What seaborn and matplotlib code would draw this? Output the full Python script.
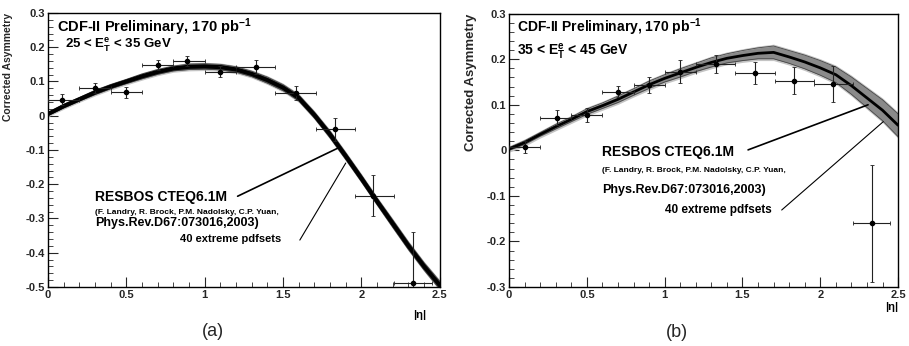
import numpy as np
import pandas as pd
import matplotlib
matplotlib.use("Agg")
import matplotlib.pyplot as plt
from matplotlib.ticker import MultipleLocator, FuncFormatter
import seaborn as sns

sns.set_style("ticks")
plt.rcParams['font.family'] = ['Liberation Sans', 'DejaVu Sans']
plt.rcParams['mathtext.fontset'] = 'custom'
plt.rcParams['mathtext.rm'] = 'Liberation Sans'
plt.rcParams['mathtext.bf'] = 'Liberation Sans:bold'
plt.rcParams['mathtext.it'] = 'Liberation Sans:italic'

# measured points (bin edges in |eta|)
bin_lo = [0.0, 0.2, 0.4, 0.6, 0.8, 1.0, 1.2, 1.45, 1.71, 1.96, 2.21]
bin_hi = [0.2, 0.4, 0.6, 0.8, 1.0, 1.2, 1.45, 1.71, 1.96, 2.21, 2.45]

eta_a = [0.09, 0.30, 0.50, 0.70, 0.89, 1.10, 1.33, 1.58, 1.83, 2.075, 2.33]
asym_a = [0.047, 0.081, 0.069, 0.148, 0.160, 0.129, 0.143, 0.066, -0.040, -0.234, -0.488]
yerr_a = [0.017, 0.016, 0.016, 0.015, 0.015, 0.017, 0.020, 0.021, 0.034, 0.060, 0.148]

eta_b = [0.10, 0.31, 0.50, 0.70, 0.90, 1.10, 1.33, 1.58, 1.83, 2.08, 2.33]
asym_b = [0.007, 0.072, 0.078, 0.129, 0.144, 0.173, 0.190, 0.170, 0.153, 0.146, -0.160]
yerr_b = [0.013, 0.017, 0.015, 0.012, 0.018, 0.025, 0.020, 0.024, 0.030, 0.040, 0.128]

# RESBOS CTEQ6.1M prediction, central value and pdf band half-width
eta_curve = [0.0, 0.1, 0.2, 0.3, 0.4, 0.5, 0.6, 0.7, 0.8, 0.9, 1.0, 1.1, 1.2,
             1.3, 1.4, 1.5, 1.6, 1.7, 1.8, 1.9, 2.0, 2.1, 2.2, 2.3, 2.4, 2.5]
curve_a = [0.005, 0.028, 0.048, 0.068, 0.085, 0.100, 0.115, 0.128, 0.138, 0.143,
           0.144, 0.142, 0.135, 0.122, 0.104, 0.082, 0.052, 0.002, -0.055, -0.118,
           -0.183, -0.250, -0.315, -0.380, -0.440, -0.495]
band_a = [0.004, 0.005, 0.005, 0.006, 0.006, 0.006, 0.007, 0.007, 0.007, 0.008,
          0.008, 0.008, 0.008, 0.008, 0.009, 0.009, 0.009, 0.009, 0.010, 0.010,
          0.010, 0.010, 0.011, 0.011, 0.011, 0.012]
curve_b = [0.003, 0.017, 0.035, 0.052, 0.068, 0.085, 0.098, 0.112, 0.128, 0.144,
           0.158, 0.170, 0.182, 0.193, 0.202, 0.208, 0.213, 0.215, 0.205, 0.194,
           0.181, 0.166, 0.142, 0.115, 0.088, 0.055]
band_b = [0.003, 0.004, 0.004, 0.005, 0.005, 0.006, 0.006, 0.007, 0.007, 0.008,
          0.008, 0.009, 0.009, 0.010, 0.010, 0.011, 0.012, 0.014, 0.014, 0.015,
          0.016, 0.017, 0.019, 0.021, 0.023, 0.025]

fmt = FuncFormatter(lambda v, p: '%g' % (round(v, 2) + 0.0))
bold = dict(fontweight='bold', color='black')


def draw_panel(ax, eta, asym, yerr, curve, band, ylim, lw_curve, band_col):
    df = pd.DataFrame({'eta': eta_curve, 'asym': curve})
    lo = np.array(curve) - np.array(band)
    hi = np.array(curve) + np.array(band)
    ax.fill_between(eta_curve, lo - 0.004, hi + 0.004, color='#c4c4c4', lw=0)
    ax.fill_between(eta_curve, lo, hi, color=band_col, lw=0)
    ax.plot(eta_curve, lo, color='#444444', lw=0.6)
    ax.plot(eta_curve, hi, color='#444444', lw=0.6)
    sns.lineplot(data=df, x='eta', y='asym', ax=ax, color='black', lw=lw_curve)

    xlo = np.array(eta) - np.array(bin_lo)
    xhi = np.array(bin_hi) - np.array(eta)
    ax.errorbar(eta, asym, xerr=[xlo, xhi], yerr=yerr, fmt='o', ms=3,
                color='black', ecolor='#222222', elinewidth=0.8, capsize=1.5,
                capthick=0.6, zorder=5)

    ax.set_xlim(0, 2.5)
    ax.set_ylim(*ylim)
    ax.xaxis.set_major_locator(MultipleLocator(0.5))
    ax.xaxis.set_minor_locator(MultipleLocator(0.1))
    ax.yaxis.set_major_locator(MultipleLocator(0.1))
    ax.yaxis.set_minor_locator(MultipleLocator(0.02))
    ax.xaxis.set_major_formatter(fmt)
    ax.yaxis.set_major_formatter(fmt)
    ax.tick_params(direction='in', which='major', length=7, width=0.8, labelsize=8, pad=2)
    ax.tick_params(direction='in', which='minor', length=3.5, width=0.6)
    for lab in ax.get_xticklabels() + ax.get_yticklabels():
        lab.set_fontweight('bold')
    for s in ax.spines.values():
        s.set_linewidth(1.0)
        s.set_color('black')
    ax.set_xlabel('')
    ax.set_ylabel('')


fig = plt.figure(figsize=(9.09, 3.46), dpi=100)
ax1 = fig.add_axes([0.0528, 0.1705, 0.431, 0.792])
ax2 = fig.add_axes([0.560, 0.1705, 0.428, 0.790])

draw_panel(ax1, eta_a, asym_a, yerr_a, curve_a, band_a, (-0.5, 0.3), 3.0, '#5a5a5a')
draw_panel(ax2, eta_b, asym_b, yerr_b, curve_b, band_b, (-0.3, 0.3), 2.0, '#8a8a8a')

# panel (a) texts
ax1.text(0.06, 0.259, r'CDF-II Preliminary, 170 pb$^{\mathbf{-1}}$', fontsize=10.5, va='center', **bold)
ax1.text(0.11, 0.207, r'25 < $\mathbf{E_{T}^{e}}$ < 35 GeV', fontsize=9.5, va='center', **bold)
ax1.text(0.30, -0.236, 'RESBOS CTEQ6.1M', fontsize=10, va='center', **bold)
ax1.text(0.30, -0.283, '(F. Landry, R. Brock, P.M. Nadolsky, C.P. Yuan,', fontsize=6, va='center', **bold)
ax1.text(0.30, -0.314, 'Phys.Rev.D67:073016,2003)', fontsize=9, va='center', **bold)
ax1.text(0.84, -0.361, '40 extreme pdfsets', fontsize=8, va='center', **bold)
# pointer lines end on the band
end1 = np.interp(1.85, eta_curve, curve_a) - 0.008
end2 = np.interp(1.90, eta_curve, curve_a) - 0.02
ax1.plot([1.21, 1.85], [-0.235, end1], color='black', lw=1.2)
ax1.plot([1.607, 1.90], [-0.363, end2], color='black', lw=0.8)
ax1.set_ylabel('Corrected Asymmetry', fontsize=7.5, fontweight='bold', loc='top')
ax1.yaxis.set_label_coords(-0.089, 1.0)
ax1.text(0.949, -0.102, '|η|', transform=ax1.transAxes, fontsize=8, ha='center', va='center', **bold)

# panel (b) texts
ax2.text(0.05, 0.271, r'CDF-II Preliminary, 170 pb$^{\mathbf{-1}}$', fontsize=10, va='center', **bold)
ax2.text(0.05, 0.215, r'35 < $\mathbf{E_{T}^{e}}$ < 45 GeV', fontsize=10, va='center', **bold)
ax2.text(0.60, -0.003, 'RESBOS CTEQ6.1M', fontsize=10, va='center', **bold)
ax2.text(0.60, -0.045, '(F. Landry, R. Brock, P.M. Nadolsky, C.P. Yuan,', fontsize=6, va='center', **bold)
ax2.text(0.60, -0.088, 'Phys.Rev.D67:073016,2003)', fontsize=9, va='center', **bold)
ax2.text(1.00, -0.130, '40 extreme pdfsets', fontsize=8.5, va='center', **bold)
ax2.plot([1.536, 2.307], [0.001, 0.100], color='black', lw=1.2)
ax2.plot([1.752, 2.405], [-0.131, 0.063], color='black', lw=0.8)
ax2.set_ylabel('Corrected Asymmetry', fontsize=9.5, fontweight='bold', loc='top')
ax2.yaxis.set_label_coords(-0.083, 1.0)
ax2.text(0.984, -0.072, '|η|', transform=ax2.transAxes, fontsize=8, ha='center', va='center', **bold)

fig.text(0.234, 0.043, '(a)', fontsize=13, ha='center', va='center')
fig.text(0.745, 0.040, '(b)', fontsize=13, ha='center', va='center')

fig.savefig('out.png', dpi=100)
